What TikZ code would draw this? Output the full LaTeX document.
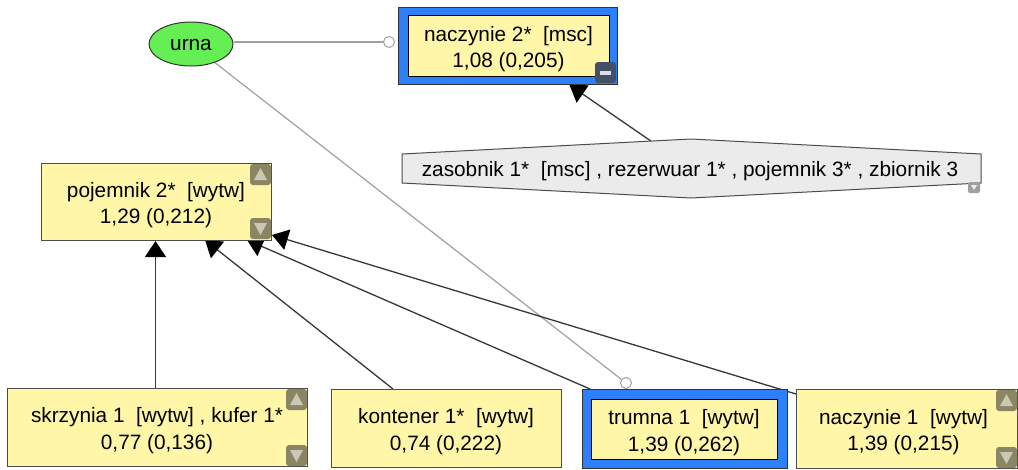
\documentclass[tikz,border=0pt]{standalone}
\usepackage{fontspec}
\setmainfont{Liberation Sans}
\usetikzlibrary{shapes.geometric,arrows.meta,calc,backgrounds}
\definecolor{boxyellow}{RGB}{255,246,168}
\definecolor{selblue}{RGB}{45,128,250}
\definecolor{urngreen}{RGB}{102,238,85}
\definecolor{groupgray}{RGB}{235,235,235}
\definecolor{btnolive}{RGB}{138,134,100}
\definecolor{btntri}{RGB}{202,200,180}
\definecolor{edgegray}{RGB}{55,55,55}
\definecolor{linkgray}{RGB}{160,160,160}
\definecolor{minusbtn}{RGB}{66,80,104}

\begin{document}
\begin{tikzpicture}[x=1pt,y=-1pt,
  txt/.style={font=\fontsize{20.8}{26.5}\selectfont, align=center},
  card/.style={draw=black!70, line width=1pt, fill=boxyellow,
    inner sep=0pt, outer sep=0pt, anchor=north west},
  selframe/.style={draw=black!80, line width=1pt, fill=selblue,
    inner sep=0pt, outer sep=0pt, anchor=north west},
  rel/.style={draw=edgegray, line width=1.3pt,
    -{Triangle[length=16pt,width=21pt,black]}},
  link/.style={draw=linkgray, line width=1.2pt},
  port/.style={circle, draw=linkgray, line width=1pt, fill=white,
    minimum size=11pt, inner sep=0pt},
  upbtn/.pic={
    \fill[btnolive, rounded corners=3pt] (0,0) rectangle (21,21);
    \fill[btntri] (4,16) -- (17,16) -- (10.5,4) -- cycle;},
  downbtn/.pic={
    \fill[btnolive, rounded corners=3pt] (0,0) rectangle (21,21);
    \fill[btntri] (4,5) -- (17,5) -- (10.5,17) -- cycle;}
]
\useasboundingbox (0,0) rectangle (1018,469);

% start node
\node[ellipse, draw=black!80, fill=urngreen, line width=1pt,
  minimum width=84pt, minimum height=44pt, inner sep=0pt] (urna) at (191,44) {};
\node[txt] at ($(urna.center)+(0,1)$) {urna};

% selected element on top
\node[selframe, minimum width=219pt, minimum height=77pt] (nacz2) at (398,7) {};
\node[card, draw=black, minimum width=201pt, minimum height=61pt] (nacz2in) at (408,15) {};
\node[txt] at ($(nacz2in.center)+(0,3.5)$) {naczynie 2*\ \ [msc]\\1,08 (0,205)};
\fill[minusbtn, rounded corners=3pt] (595,62) rectangle (616,83);
\fill[white!75!gray] (600,71) rectangle (611,75);

% collapsed group
\draw[draw=black!70, fill=groupgray, line width=1pt]
  (402,154) -- (691,139) -- (981,154) -- (981,183) -- (691,198) -- (402,183) -- cycle;
\node[txt] (grp) at (690,171)
  {zasobnik 1*\ \ [msc] , rezerwuar 1* , pojemnik 3* , zbiornik 3};
\coordinate (grptop) at (651,141.1);
\fill[gray!75, rounded corners=2pt] (968,182) rectangle (980,193);
\fill[white!85!gray] (971,185) -- (977,185) -- (974,190) -- cycle;

% middle element
\node[card, minimum width=230pt, minimum height=77pt] (poj) at (41,163) {};
\node[txt] at ($(poj.center)+(0,3.5)$) {pojemnik 2*\ \ [wytw]\\1,29 (0,212)};
\pic at (250,164) {upbtn};
\pic at (250,218) {downbtn};

% bottom row
\node[card, minimum width=300pt, minimum height=78pt] (skrz) at (7,388) {};
\node[txt] at ($(skrz.center)+(0,3.5)$) {skrzynia 1\ \ [wytw] , kufer 1*\\0,77 (0,136)};
\pic at (286,389) {upbtn};
\pic at (286,445) {downbtn};

\node[card, minimum width=230pt, minimum height=78pt] (kont) at (331,389) {};
\node[txt] at ($(kont.center)+(0,3.5)$) {kontener 1*\ \ [wytw]\\0,74 (0,222)};

\node[selframe, minimum width=205pt, minimum height=79pt] (trumna) at (582,389) {};
\node[card, draw=black, minimum width=186pt, minimum height=60pt] (trumnain) at (591,399) {};
\node[txt] at ($(trumnain.center)+(0,3.5)$) {trumna 1\ \ [wytw]\\1,39 (0,262)};

\node[card, minimum width=221pt, minimum height=79pt] (nacz1) at (796,389) {};
\node[txt] at ($(nacz1.center)+(-3,3.5)$) {naczynie 1\ \ [wytw]\\1,39 (0,215)};
\pic at (996,390) {upbtn};
\pic at (996,447) {downbtn};

% link ports
\node[port] (c1) at (389,42) {};
\node[port] (c2) at (626,383) {};

% connectors behind the boxes
\begin{scope}[on background layer]
  \draw[link] (c1 -| urna.east) -- (c1);
  \draw[link] (urna) -- (c2);
  \draw[rel] ($(skrz.north west)+(148.5,0)$) -- ($(poj.south west)+(114.5,1)$);
  \draw[rel] ($(kont.north west)+(62,0)$) -- ($(poj.south west)+(164,0)$);
  \draw[rel] ($(trumna.north west)+(8,0)$) -- ($(poj.south west)+(206,0)$);
  \draw[rel] ($(nacz1.north west)+(0,5)$) -- ($(poj.south east)+(1,-5)$);
  \draw[rel] (grptop) -- ($(nacz2.south west)+(171.5,1)$);
\end{scope}
\end{tikzpicture}
\end{document}
